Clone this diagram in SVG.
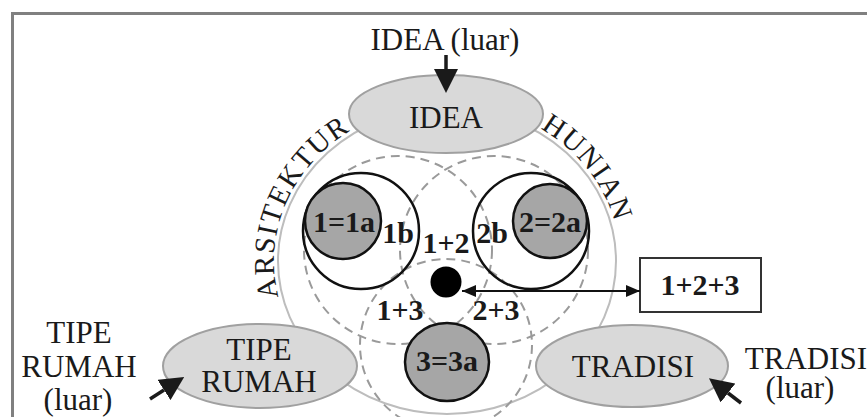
<svg xmlns="http://www.w3.org/2000/svg" width="867" height="417" viewBox="0 0 867 417">
<style>
text{font-family:"Liberation Serif","Times New Roman",serif;fill:#1a1a1a}
.lbl{font-size:31px;text-anchor:middle}
.num{font-size:30px;font-weight:bold;text-anchor:middle}
.arc{font-size:29px;letter-spacing:1.5px}
.oval{fill:#d9d9d9;stroke:#a0a0a0;stroke-width:2}
.dash{fill:none;stroke:#9a9a9a;stroke-width:2;stroke-dasharray:9 6}
.ring{fill:none;stroke:#111;stroke-width:2.5}
.core{fill:#a6a6a6;stroke:#111;stroke-width:2.5}
.conn{stroke:#1a1a1a;stroke-width:3.5;fill:none}
.thin{stroke:#111;stroke-width:2;fill:none}
</style>
<defs>
<marker id="big" markerUnits="userSpaceOnUse" markerWidth="24" markerHeight="24" refX="0" refY="12" orient="auto"><path d="M0,0 L24,12 L0,24 z" fill="#1a1a1a"/></marker>
<marker id="small" markerUnits="userSpaceOnUse" markerWidth="14" markerHeight="12" refX="14" refY="6" orient="auto-start-reverse"><path d="M0,0 L14,6 L0,12 z" fill="#111"/></marker>
<path id="arcL" d="M284.4,314.7 A173,157 0 0 1 360.5,125"/>
<path id="arcR" d="M520.6,118.7 A173,157 0 0 1 620,261"/>
</defs>
<rect width="867" height="417" fill="#fff"/>
<path d="M12.5,417 V13.5 H867" fill="none" stroke="#808080" stroke-width="3"/>

<g id="frame-circle">
<ellipse cx="447" cy="261" rx="169" ry="153" fill="none" stroke="#bdbdbd" stroke-width="2"/>
<text class="arc"><textPath href="#arcL" startOffset="214" text-anchor="end">ARSITEKTUR</textPath></text>
<text class="arc"><textPath href="#arcR" startOffset="22">HUNIAN</textPath></text>
</g>

<g id="venn">
<circle class="dash" cx="398" cy="250" r="94"/>
<circle class="dash" cx="494" cy="250" r="94"/>
<circle class="dash" cx="446" cy="345" r="86"/>
</g>

<g id="node-1">
<circle class="ring" cx="361" cy="231" r="58"/>
<circle class="core" cx="343" cy="221" r="38"/>
<text class="num" x="344" y="232">1=1a</text>
<text class="num" x="398" y="243">1b</text>
</g>

<g id="node-2">
<circle class="ring" cx="531" cy="231" r="58"/>
<circle class="core" cx="550" cy="221" r="37"/>
<text class="num" x="550" y="232">2=2a</text>
<text class="num" x="492" y="243">2b</text>
</g>

<g id="node-3">
<ellipse class="core" cx="447" cy="362" rx="42" ry="39"/>
<text class="num" x="447" y="371">3=3a</text>
</g>

<g id="intersections">
<text class="num" x="446" y="253">1+2</text>
<text class="num" x="400" y="320">1+3</text>
<text class="num" x="496" y="320">2+3</text>
<circle cx="446" cy="282" r="15.5" fill="#000"/>
</g>

<g id="node-123">
<rect x="640" y="258" width="121" height="54" fill="#fff" stroke="#333" stroke-width="2"/>
<text class="num" x="700" y="295">1+2+3</text>
</g>

<g id="node-idea">
<ellipse class="oval" cx="446" cy="114" rx="97" ry="39"/>
<text class="lbl" x="446" y="128">IDEA</text>
</g>

<g id="node-tipe">
<ellipse class="oval" cx="260" cy="366" rx="97" ry="42"/>
<text class="lbl" x="259" y="360">TIPE</text>
<text class="lbl" x="259" y="392">RUMAH</text>
</g>

<g id="node-tradisi">
<ellipse class="oval" cx="632" cy="366" rx="96" ry="41"/>
<text class="lbl" x="633" y="377">TRADISI</text>
</g>

<g id="ext-idea">
<text class="lbl" x="445" y="50">IDEA (luar)</text>
</g>
<g id="ext-tipe">
<text class="lbl" x="79" y="343">TIPE</text>
<text class="lbl" x="79" y="377">RUMAH</text>
<text class="lbl" x="78" y="410">(luar)</text>
</g>
<g id="ext-tradisi">
<text class="lbl" x="806" y="369">TRADISI</text>
<text class="lbl" x="800" y="398">(luar)</text>
</g>

<g id="connectors">
<line class="conn" x1="446" y1="55" x2="446" y2="69" marker-end="url(#big)"/>
<line class="conn" x1="150" y1="399" x2="164" y2="390" marker-end="url(#big)"/>
<line class="conn" x1="741" y1="403" x2="728" y2="393" marker-end="url(#big)"/>
<line class="thin" x1="462" y1="291" x2="640" y2="291" marker-start="url(#small)" marker-end="url(#small)"/>
</g>
</svg>
